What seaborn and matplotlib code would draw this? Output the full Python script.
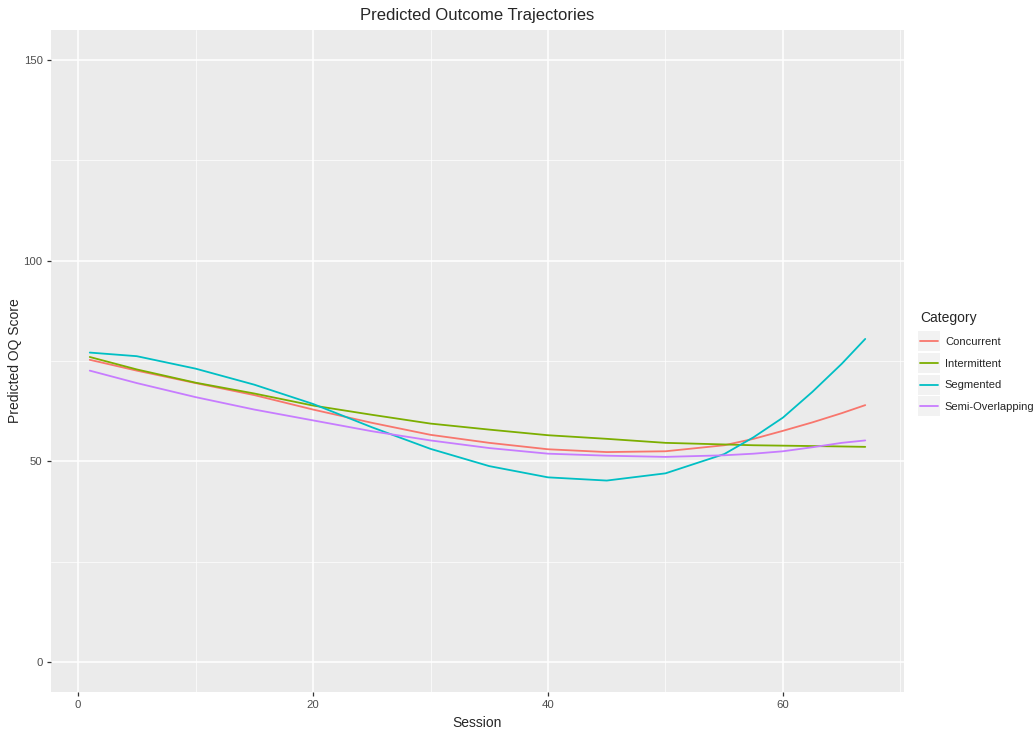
import pandas as pd
import matplotlib
matplotlib.use("Agg")
import matplotlib.pyplot as plt
from matplotlib.patches import Rectangle
from matplotlib.transforms import IdentityTransform
from matplotlib.ticker import MultipleLocator
import seaborn as sns

# values
sessions = [1, 5, 10, 15, 20, 25, 30, 35, 40, 45, 50, 55, 57.5, 60, 62.5, 65, 67]
concurrent = [75.3, 72.6, 69.5, 66.5, 62.9, 59.6, 56.6, 54.6, 53.0, 52.3, 52.5, 54.0, 55.6, 57.6, 59.7, 62.0, 64.0]
intermittent = [76.0, 72.9, 69.6, 66.9, 63.9, 61.6, 59.4, 57.9, 56.5, 55.6, 54.6, 54.2, 54.0, 53.9, 53.8, 53.7, 53.6]
segmented = [77.1, 76.2, 73.1, 69.1, 64.3, 58.5, 53.1, 48.8, 46.0, 45.2, 47.0, 51.8, 56.0, 60.9, 67.3, 74.3, 80.5]
semi_overlapping = [72.6, 69.5, 66.0, 62.9, 60.2, 57.5, 55.2, 53.3, 51.9, 51.4, 51.1, 51.5, 51.9, 52.5, 53.5, 54.6, 55.2]

categories = ["Concurrent", "Intermittent", "Segmented", "Semi-Overlapping"]
palette = ["#F8766D", "#7CAE00", "#00BFC4", "#C77CFF"]

series = [concurrent, intermittent, segmented, semi_overlapping]
df = pd.concat(
    [pd.DataFrame({"Session": sessions, "Predicted": vals, "Category": cat})
     for cat, vals in zip(categories, series)],
    ignore_index=True,
)

sns.set_style("darkgrid", {"axes.facecolor": "#EBEBEB", "grid.color": "white"})
plt.rcParams["font.family"] = ["Liberation Sans", "DejaVu Sans"]

fig = plt.figure(figsize=(10.36, 7.29), dpi=100)
ax = fig.add_axes([51 / 1036, 1 - 692 / 729, (904 - 51) / 1036, (692 - 30) / 729])

sns.lineplot(data=df, x="Session", y="Predicted", hue="Category",
             hue_order=categories, palette=palette, linewidth=1.3, ax=ax)

ax.set_xlim(-2.3, 70.3)
ax.set_ylim(-7.5, 157.5)
ax.xaxis.set_major_locator(MultipleLocator(20))
ax.xaxis.set_minor_locator(MultipleLocator(10))
ax.yaxis.set_major_locator(MultipleLocator(50))
ax.yaxis.set_minor_locator(MultipleLocator(25))
ax.grid(which="major", color="white", linewidth=1.1)
ax.grid(which="minor", color="white", linewidth=0.5)
ax.tick_params(which="major", length=3, width=0.9, color="#333333",
               labelcolor="#4D4D4D", labelsize=8.2, pad=3,
               bottom=True, left=True)
ax.tick_params(which="minor", length=0)
for s in ax.spines.values():
    s.set_visible(False)

ax.set_title("Predicted Outcome Trajectories", fontsize=12, pad=7)
ax.set_xlabel("Session", fontsize=10, labelpad=4)
ax.set_ylabel("Predicted OQ Score", fontsize=10, labelpad=1)

leg = ax.legend(title="Category", loc="upper left", bbox_to_anchor=(916 / 1036, 1 - 307 / 729),
                bbox_transform=fig.transFigure, frameon=False, fontsize=8.0,
                title_fontsize=10, handlelength=1.6, labelspacing=1.05,
                handletextpad=0.6, borderaxespad=0)
leg._legend_box.align = "left"
leg.set_zorder(6)

# grey key boxes behind the legend lines, like ggplot
fig.canvas.draw()
for line in leg.get_lines():
    bb = line.get_window_extent()
    cx, cy = (bb.x0 + bb.x1) / 2, (bb.y0 + bb.y1) / 2
    ax.add_artist(Rectangle((cx - 11, cy - 10), 22, 20, transform=IdentityTransform(),
                            facecolor="#F2F2F2", edgecolor="none", zorder=5,
                            clip_on=False))

fig.savefig("out.png", dpi=100)
